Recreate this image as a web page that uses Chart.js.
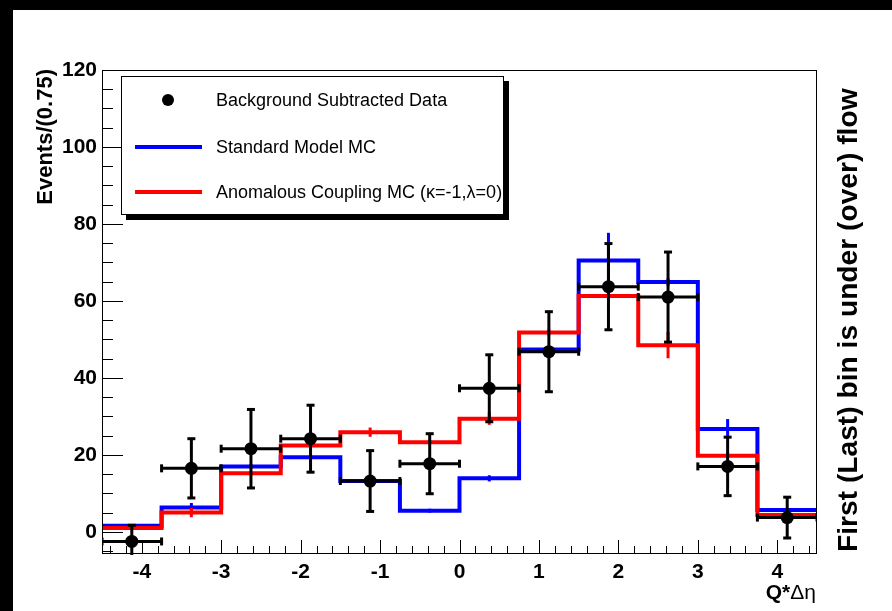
<!DOCTYPE html>
<html>
<head>
<meta charset="utf-8">
<script src="https://cdn.jsdelivr.net/npm/chart.js@4/dist/chart.umd.min.js"></script>
<style>
  html, body { margin: 0; padding: 0; background: #fff; }
  canvas { display: block; }
</style>
</head>
<body>
<canvas id="qdeta" width="892" height="611"></canvas>
<script>
// bins of Q*deta, width 0.75
const binEdges = [-4.5, -3.75, -3, -2.25, -1.5, -0.75, 0, 0.75, 1.5, 2.25, 3, 3.75, 4.5];

// background subtracted data
const dataValues = [-2.5, 16.5, 21.6, 24.2, 13.2, 17.7, 37.3, 46.8, 63.7, 61.0, 17.0, 3.7];
const dataErrors = [4.2, 7.7, 10.2, 8.7, 7.9, 7.8, 8.7, 10.4, 11.2, 11.7, 7.6, 5.3];

// standard model MC
const smValues = [1.6, 6.3, 17.0, 19.4, 13.2, 5.5, 13.9, 47.4, 70.5, 64.9, 26.7, 5.7];
const smErrors = [0.4, 1.2, 0.6, 0.6, 0.6, 0.5, 0.8, 0.6, 7.2, 1.0, 2.6, 0.4];

// anomalous coupling MC (kappa=-1, lambda=0)
const acValues = [1.0, 5.0, 15.2, 22.4, 25.9, 23.3, 29.4, 51.8, 61.3, 48.5, 19.8, 4.4];
const acErrors = [0.4, 1.2, 0.6, 0.6, 1.2, 0.6, 1.6, 0.8, 0.8, 3.4, 0.6, 0.4];

const xTicks = [-4, -3, -2, -1, 0, 1, 2, 3, 4];
const yTicks = [0, 20, 40, 60, 80, 100, 120];

const binCenters = binEdges.slice(0, -1).map((e, i) => (e + binEdges[i + 1]) / 2);
const halfWidth = (binEdges[1] - binEdges[0]) / 2;

// histogram outline: one point per left edge, last value repeated at right edge
function stepPoints(values) {
    const pts = values.map((v, i) => ({ x: binEdges[i], y: v }));
    pts.push({ x: binEdges[binEdges.length - 1], y: values[values.length - 1] });
    return pts;
}

const FONT = '"Liberation Sans", Arial, Helvetica, sans-serif';
const BLUE = '#0000ff';
const RED = '#ff0000';

function line(ctx, x1, y1, x2, y2) {
    ctx.beginPath();
    ctx.moveTo(x1, y1);
    ctx.lineTo(x2, y2);
    ctx.stroke();
}

const rootStyle = {
    id: 'rootStyle',
    beforeDraw(chart) {
        const ctx = chart.ctx;
        ctx.save();
        ctx.fillStyle = '#fff';
        ctx.fillRect(0, 0, chart.width, chart.height);
        // black canvas edge, top and left
        ctx.fillStyle = '#000';
        ctx.fillRect(0, 0, chart.width, 10);
        ctx.fillRect(0, 0, 13, chart.height);
        ctx.restore();
    },
    beforeDatasetDraw(chart, args) {
        if (args.index !== 0) return;
        const { ctx, chartArea } = chart;
        const xs = chart.scales.x, ys = chart.scales.y;
        ctx.save();
        ctx.beginPath();
        ctx.rect(chartArea.left, chartArea.top, chartArea.right - chartArea.left, chartArea.bottom - chartArea.top + 2);
        ctx.clip();
        ctx.strokeStyle = '#000';
        ctx.lineWidth = 3;
        const cap = 4;
        binCenters.forEach((c, i) => {
            const px = xs.getPixelForValue(c);
            const py = ys.getPixelForValue(dataValues[i]);
            const xl = xs.getPixelForValue(c - halfWidth);
            const xr = xs.getPixelForValue(c + halfWidth);
            const yt = ys.getPixelForValue(dataValues[i] + dataErrors[i]);
            const yb = ys.getPixelForValue(dataValues[i] - dataErrors[i]);
            line(ctx, xl, py, xr, py);
            line(ctx, px, yt, px, yb);
            line(ctx, xl, py - cap, xl, py + cap);
            line(ctx, xr, py - cap, xr, py + cap);
            line(ctx, px - cap, yt, px + cap, yt);
            line(ctx, px - cap, yb, px + cap, yb);
        });
        ctx.restore();
    },
    afterDatasetDraw(chart, args) {
        if (args.index === 0) return;
        const vals = args.index === 1 ? acValues : smValues;
        const errs = args.index === 1 ? acErrors : smErrors;
        const { ctx } = chart;
        const xs = chart.scales.x, ys = chart.scales.y;
        ctx.save();
        ctx.strokeStyle = args.index === 1 ? RED : BLUE;
        ctx.lineWidth = 3;
        binCenters.forEach((c, i) => {
            const px = xs.getPixelForValue(c);
            line(ctx, px, ys.getPixelForValue(vals[i] + errs[i]), px, ys.getPixelForValue(vals[i] - errs[i]));
        });
        ctx.restore();
    },
    afterDraw(chart) {
        const { ctx, chartArea } = chart;
        const xs = chart.scales.x, ys = chart.scales.y;
        const { left, right, top, bottom } = chartArea;
        ctx.save();

        // frame
        ctx.lineWidth = 1;
        ctx.strokeStyle = '#000';
        ctx.strokeRect(left + 0.5, top + 0.5, right - left - 1, bottom - top);

        // ticks pointing inward
        for (let v = -5; v <= 120; v += 5) {
            const py = Math.round(ys.getPixelForValue(v)) + 0.5;
            if (py > bottom) continue;
            const len = v % 20 === 0 ? 21 : 11;
            line(ctx, left, py, left + len, py);
        }
        for (let k = -22; k <= 22; k++) {
            const v = k / 5;
            const px = Math.round(xs.getPixelForValue(v)) + 0.5;
            const len = k % 5 === 0 ? 13 : 7;
            line(ctx, px, bottom, px, bottom - len);
        }

        // y axis title
        ctx.fillStyle = '#000';
        ctx.save();
        ctx.translate(46, 69);
        ctx.rotate(-Math.PI / 2);
        ctx.font = 'bold 22px ' + FONT;
        ctx.textAlign = 'right';
        ctx.textBaseline = 'middle';
        ctx.fillText('Events/(0.75)', 0, 0);
        ctx.restore();

        // x axis title
        ctx.textBaseline = 'alphabetic';
        ctx.textAlign = 'right';
        ctx.font = '21px ' + FONT;
        const greek = 'Δη';
        const gw = ctx.measureText(greek).width;
        ctx.fillText(greek, 816, 599);
        ctx.font = 'bold 21px ' + FONT;
        ctx.fillText('Q*', 816 - gw, 599);

        // side note
        ctx.save();
        ctx.translate(857, 552);
        ctx.rotate(-Math.PI / 2);
        const note = 'First (Last) bin is under (over) flow';
        ctx.font = 'bold 26px ' + FONT;
        const nw = ctx.measureText(note).width;
        const size = 26 * 464 / nw;
        ctx.font = 'bold ' + size.toFixed(1) + 'px ' + FONT;
        ctx.textAlign = 'left';
        ctx.textBaseline = 'alphabetic';
        ctx.fillText(note, 0, 0);
        ctx.restore();

        // legend box with shadow
        ctx.fillStyle = '#000';
        ctx.fillRect(126, 215, 383, 5);
        ctx.fillRect(504, 81, 5, 139);
        ctx.fillStyle = '#fff';
        ctx.fillRect(121, 76, 383, 139);
        ctx.strokeStyle = '#000';
        ctx.lineWidth = 1;
        ctx.strokeRect(121.5, 76.5, 382, 138);

        // legend rows: data, SM, anomalous
        const entries = [0, 2, 1].map(i => chart.data.datasets[i]);
        const rows = [100, 147, 192];
        ctx.font = '18px ' + FONT;
        ctx.textAlign = 'left';
        ctx.textBaseline = 'middle';
        entries.forEach((ds, i) => {
            const y = rows[i];
            if (i === 0) {
                ctx.fillStyle = '#000';
                ctx.beginPath();
                ctx.arc(168, y, 6, 0, Math.PI * 2);
                ctx.fill();
            } else {
                ctx.strokeStyle = ds.borderColor;
                ctx.lineWidth = 4;
                line(ctx, 135, y, 202, y);
            }
            ctx.fillStyle = '#000';
            ctx.fillText(ds.label, 216, y + 1);
        });
        ctx.restore();
    }
};

const ctx = document.getElementById('qdeta').getContext('2d');
new Chart(ctx, {
    type: 'scatter',
    data: {
        datasets: [
            {
                label: 'Background Subtracted Data',
                data: binCenters.map((c, i) => ({ x: c, y: dataValues[i] })),
                pointRadius: 6.5,
                pointBackgroundColor: '#000',
                pointBorderColor: '#000',
                pointBorderWidth: 0,
                showLine: false
            },
            {
                label: 'Anomalous Coupling MC (κ=-1,λ=0)',
                type: 'line',
                data: stepPoints(acValues),
                stepped: 'before',
                borderColor: RED,
                borderWidth: 4,
                pointRadius: 0,
                fill: false
            },
            {
                label: 'Standard Model MC',
                type: 'line',
                data: stepPoints(smValues),
                stepped: 'before',
                borderColor: BLUE,
                borderWidth: 4,
                pointRadius: 0,
                fill: false
            }
        ]
    },
    options: {
        responsive: false,
        animation: false,
        events: [],
        layout: { padding: { left: 0, top: 70, right: 75, bottom: 0 } },
        plugins: {
            legend: { display: false },
            tooltip: { enabled: false }
        },
        scales: {
            x: {
                type: 'linear',
                min: -4.5,
                max: 4.5,
                afterFit: (s) => { s.height = 58; },
                afterBuildTicks: (s) => { s.ticks = xTicks.map(v => ({ value: v })); },
                grid: { display: false, drawTicks: false },
                border: { display: false },
                ticks: {
                    color: '#000',
                    padding: 7,
                    font: { family: FONT, size: 21, weight: 'bold' }
                }
            },
            y: {
                type: 'linear',
                min: -5.5,
                max: 120,
                afterFit: (s) => { s.width = 102; },
                afterBuildTicks: (s) => { s.ticks = yTicks.map(v => ({ value: v })); },
                grid: { display: false, drawTicks: false },
                border: { display: false },
                ticks: {
                    color: '#000',
                    padding: 5,
                    font: { family: FONT, size: 21, weight: 'bold' }
                }
            }
        }
    },
    plugins: [rootStyle]
});
</script>
</body>
</html>
